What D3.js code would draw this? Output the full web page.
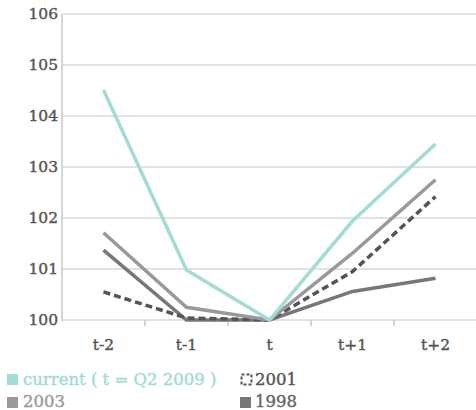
<!DOCTYPE html>
<html><head><meta charset="utf-8">
<script src="https://cdn.jsdelivr.net/npm/d3@7"></script>
<style>body{margin:0;background:#fff}svg{display:block}</style>
</head><body>
<script>
const categories = ["t-2","t-1","t","t+1","t+2"];
const current = [104.51, 100.98, 100.0, 101.94, 103.45];
const y2003 = [101.71, 100.25, 100.0, 101.31, 102.75];
const y2001 = [100.55, 100.04, 100.0, 100.95, 102.42];
const y1998 = [101.37, 100.0, 100.0, 100.56, 100.82];
const yTicks = [100,101,102,103,104,105,106];

const W=476,H=410;
const svg=d3.select("body").append("svg").attr("width",W).attr("height",H);
const font="'DejaVu Serif', serif";
const x=d3.scaleBand().domain(categories).range([62,477]);
const y=d3.scaleLinear().domain([100,106]).range([320,14]);

svg.append("g").selectAll("line").data(yTicks).join("line")
 .attr("x1",62).attr("x2",W).attr("y1",d=>y(d)).attr("y2",d=>y(d))
 .attr("stroke","#d9d9d9").attr("stroke-width",1.5);
svg.append("line").attr("x1",62).attr("x2",62).attr("y1",14).attr("y2",321).attr("stroke","#c8c8c8").attr("stroke-width",1.5);
svg.append("g").selectAll("line").data(categories.slice(1)).join("line")
 .attr("x1",d=>x(d)).attr("x2",d=>x(d)).attr("y1",320).attr("y2",326).attr("stroke","#c8c8c8").attr("stroke-width",1.5);
svg.append("g").selectAll("text").data(yTicks).join("text")
 .attr("x",58).attr("y",d=>y(d)+5).attr("text-anchor","end")
 .attr("font-family",font).attr("font-size",15.5).attr("fill","#555")
 .attr("stroke","#555").attr("stroke-width",0.4)
 .text(d=>d);
svg.append("g").selectAll("text").data(categories).join("text")
 .attr("x",d=>x(d)+x.bandwidth()/2).attr("y",350).attr("text-anchor","middle")
 .attr("font-family",font).attr("font-size",15.5).attr("fill","#555")
 .attr("stroke","#555").attr("stroke-width",0.4)
 .text(d=>d);

const line=d3.line().x((d,i)=>x(categories[i])+x.bandwidth()/2).y(d=>y(d));
const series=[
 {v:y1998,c:"#777777",dash:null},
 {v:y2001,c:"#555555",dash:"7,4"},
 {v:y2003,c:"#999999",dash:null},
 {v:current,c:"#a2dcd4",dash:null}
];
series.forEach(s=>{
 svg.append("path").datum(s.v).attr("d",line).attr("fill","none")
  .attr("stroke",s.c).attr("stroke-width",3.5).attr("stroke-dasharray",s.dash);
});

const lg=svg.append("g").attr("font-family",font).attr("font-size",16.5);
lg.append("rect").attr("x",7).attr("y",374).attr("width",11).attr("height",11).attr("fill","#a2dcd4");
lg.append("text").attr("x",23).attr("y",385).attr("fill","#a2dcd4").attr("stroke","#a2dcd4").attr("stroke-width",0.4).text("current ( t = Q2 2009 )");
lg.append("rect").attr("x",241.5).attr("y",374.5).attr("width",10).attr("height",10).attr("fill","none")
 .attr("stroke","#555").attr("stroke-width",2).attr("stroke-dasharray","3,2");
lg.append("text").attr("x",255).attr("y",385).attr("fill","#555").attr("stroke","#555").attr("stroke-width",0.4).text("2001");
lg.append("rect").attr("x",7).attr("y",397).attr("width",11).attr("height",11).attr("fill","#999");
lg.append("text").attr("x",23).attr("y",407).attr("fill","#999").attr("stroke","#999").attr("stroke-width",0.4).text("2003");
lg.append("rect").attr("x",240).attr("y",397).attr("width",11).attr("height",11).attr("fill","#777");
lg.append("text").attr("x",255).attr("y",407).attr("fill","#666").attr("stroke","#666").attr("stroke-width",0.4).text("1998");
</script>
</body></html>
